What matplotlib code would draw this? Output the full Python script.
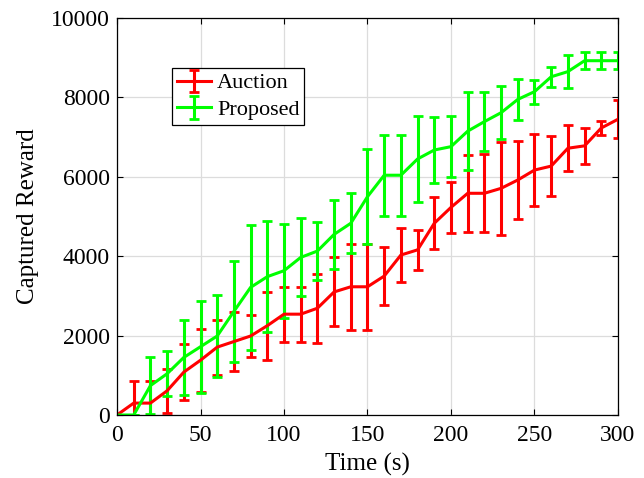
import numpy as np
import matplotlib
matplotlib.use('Agg')
import matplotlib.pyplot as plt

plt.rcParams['font.family'] = ['Liberation Serif', 'DejaVu Serif']
plt.rcParams['mathtext.fontset'] = 'stix'

# time axis (s)
time_s = np.arange(0, 301, 10)

# mean captured reward and error half-widths
auction_mean = [0, 300, 300, 610, 1080, 1380, 1710, 1850, 1990, 2250,
                2540, 2540, 2690, 3100, 3230, 3230, 3500, 4030, 4160, 4830,
                5230, 5585, 5585, 5710, 5920, 6170, 6270, 6720, 6780, 7230,
                7450]
auction_err = [0, 560, 560, 560, 700, 790, 690, 750, 540, 860,
               690, 690, 870, 870, 1085, 1085, 740, 670, 510, 660,
               645, 975, 980, 1170, 990, 900, 750, 575, 460, 170,
               475]

proposed_mean = [0, 0, 740, 1040, 1450, 1720, 1990, 2610, 3215, 3485,
                 3635, 3970, 4130, 4550, 4830, 5500, 6040, 6040, 6450, 6675,
                 6760, 7150, 7390, 7615, 7950, 8145, 8520, 8650, 8925, 8925,
                 8925]
proposed_err = [0, 0, 715, 560, 950, 1160, 1035, 1270, 1575, 1390,
                1180, 980, 740, 860, 755, 1200, 1015, 1015, 1085, 820,
                770, 975, 740, 660, 515, 300, 250, 410, 210, 210,
                210]

fig = plt.figure(figsize=(6.44, 4.78), dpi=100)
ax = fig.add_axes([0.1817, 0.1318, 0.7779, 0.8305])

ax.errorbar(time_s, auction_mean, yerr=auction_err, color='#ff0000',
            linewidth=2.2, elinewidth=2.2, capsize=3.4, capthick=2.0,
            label='Auction')
ax.errorbar(time_s, proposed_mean, yerr=proposed_err, color='#00ff00',
            linewidth=2.2, elinewidth=2.2, capsize=3.4, capthick=2.0,
            label='Proposed')

ax.set_xlim(0, 300)
ax.set_ylim(0, 10000)
ax.set_xticks(np.arange(0, 301, 50))
ax.set_yticks(np.arange(0, 10001, 2000))
ax.grid(True, color='#dcdcdc', linewidth=0.9)
ax.set_axisbelow(True)
ax.tick_params(direction='in', top=True, right=True, labelsize=17,
               length=4.5, width=0.8)
ax.tick_params(axis='x', pad=7)
ax.tick_params(axis='y', pad=5)
for sp in ax.spines.values():
    sp.set_linewidth(0.9)

ax.set_xlabel('Time (s)', fontsize=18, labelpad=5)
ax.set_ylabel('Captured Reward', fontsize=18, labelpad=9)

leg = ax.legend(loc='upper left', bbox_to_anchor=(0.110, 0.874),
                fontsize=16, fancybox=False, framealpha=1,
                edgecolor='black', borderpad=0.22, labelspacing=0.28,
                handlelength=1.55, handletextpad=0.25, borderaxespad=0)
leg.get_frame().set_linewidth(0.9)

fig.savefig('out.png', dpi=100)
